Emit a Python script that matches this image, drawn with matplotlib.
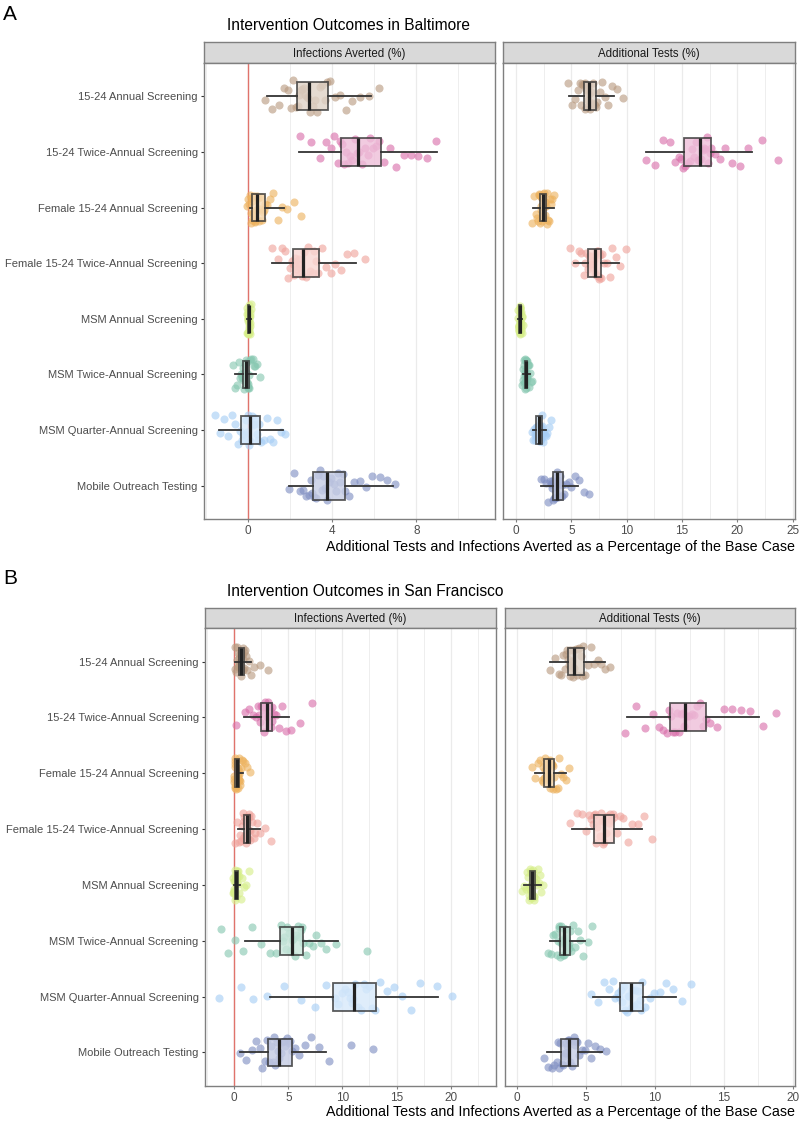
import numpy as np
import matplotlib
matplotlib.use("Agg")
import matplotlib.pyplot as plt
from matplotlib.colors import to_rgb

plt.rcParams['font.family'] = ['Liberation Sans', 'DejaVu Sans']

# Categorias y colores
categorias = ["15-24 Annual Screening", "15-24 Twice-Annual Screening",
              "Female 15-24 Annual Screening", "Female 15-24 Twice-Annual Screening",
              "MSM Annual Screening", "MSM Twice-Annual Screening",
              "MSM Quarter-Annual Screening", "Mobile Outreach Testing"]
colores = ["#B89A80", "#D96FAA", "#EDB25E", "#EFA39C",
           "#D6EE88", "#86C7B0", "#A6CDF5", "#7F8EC2"]

facetas = ["Infections Averted (%)", "Additional Tests (%)"]

# Cajas: (bigote inf, q1, mediana, q3, bigote sup)
balt_inf_box = [(0.89, 2.32, 2.89, 3.78, 5.84), (2.40, 4.41, 5.21, 6.30, 8.98),
                (0.06, 0.17, 0.41, 0.81, 1.68), (1.13, 2.13, 2.60, 3.35, 5.11),
                (-0.06, -0.01, 0.02, 0.05, 0.12), (-0.65, -0.25, -0.10, 0.02, 0.38),
                (-1.41, -0.35, 0.06, 0.54, 1.65), (1.92, 3.08, 3.75, 4.62, 6.89)]
balt_test_box = [(4.76, 6.10, 6.58, 7.23, 8.84), (11.70, 15.18, 16.58, 17.65, 21.34),
                 (1.58, 2.17, 2.41, 2.71, 3.42), (5.21, 6.55, 7.17, 7.68, 9.29),
                 (0.18, 0.30, 0.36, 0.42, 0.58), (0.62, 0.80, 0.90, 1.00, 1.25),
                 (1.50, 1.83, 2.04, 2.33, 2.72), (2.29, 3.33, 3.72, 4.23, 5.56)]
sf_inf_box = [(0.10, 0.40, 0.65, 0.92, 1.54), (0.86, 2.46, 3.01, 3.53, 5.07),
              (0.03, 0.09, 0.29, 0.47, 0.80), (0.31, 0.86, 1.17, 1.47, 2.33),
              (-0.06, 0.03, 0.15, 0.31, 0.55), (1.01, 4.24, 5.32, 6.39, 9.61),
              (3.32, 9.09, 11.06, 13.06, 18.83), (0.55, 3.16, 4.15, 5.32, 8.48)]
sf_test_box = [(2.39, 3.67, 4.08, 4.81, 6.38), (7.95, 11.09, 12.17, 13.70, 17.56),
               (1.26, 1.96, 2.27, 2.63, 3.55), (3.96, 5.60, 6.26, 7.03, 9.03),
               (0.46, 0.89, 1.06, 1.26, 1.72), (2.39, 3.07, 3.41, 3.84, 4.88),
               (5.48, 7.46, 8.26, 9.10, 11.50), (2.15, 3.17, 3.72, 4.40, 6.14)]

# Puntos (valores estimados de la imagen)
balt_inf_pts = [
    [0.81, 1.12, 1.45, 1.7, 1.88, 2.02, 2.15, 2.27, 2.35, 2.42, 2.5, 2.57, 2.64, 2.71, 2.78, 2.85,
     2.95, 3.06, 3.17, 3.29, 3.41, 3.52, 3.63, 3.74, 3.9, 4.12, 4.38, 4.66, 4.95, 5.3, 5.75, 6.24],
    [2.45, 3.0, 3.4, 3.7, 3.92, 4.1, 4.25, 4.37, 4.46, 4.56, 4.66, 4.76, 4.86, 4.96, 5.06, 5.16,
     5.29, 5.42, 5.55, 5.68, 5.82, 5.95, 6.08, 6.22, 6.45, 6.75, 7.05, 7.4, 7.75, 8.1, 8.5, 8.95],
    [-0.06, 0.0, 0.05, 0.08, 0.11, 0.13, 0.15, 0.16, 0.19, 0.22, 0.25, 0.28, 0.31, 0.34, 0.37, 0.4,
     0.45, 0.5, 0.55, 0.6, 0.65, 0.7, 0.75, 0.8, 0.9, 1.05, 1.2, 1.4, 1.6, 1.85, 2.2, 2.5],
    [1.15, 1.4, 1.6, 1.76, 1.88, 1.98, 2.06, 2.11, 2.16, 2.22, 2.28, 2.34, 2.4, 2.46, 2.52, 2.58,
     2.66, 2.76, 2.86, 2.96, 3.06, 3.15, 3.24, 3.33, 3.5, 3.7, 3.92, 4.15, 4.4, 4.7, 5.05, 5.55],
    [-0.06, -0.05, -0.04, -0.03, -0.03, -0.02, -0.02, -0.01, -0.01, 0.0, 0.0, 0.0, 0.01, 0.01, 0.01, 0.02,
     0.02, 0.03, 0.03, 0.03, 0.04, 0.04, 0.04, 0.05, 0.05, 0.06, 0.07, 0.08, 0.09, 0.1, 0.11, 0.12],
    [-0.75, -0.62, -0.52, -0.44, -0.38, -0.33, -0.29, -0.26, -0.24, -0.22, -0.2, -0.18, -0.16, -0.14, -0.12, -0.1,
     -0.09, -0.07, -0.06, -0.04, -0.03, -0.01, 0.0, 0.02, 0.05, 0.1, 0.15, 0.2, 0.26, 0.32, 0.4, 0.54],
    [-1.57, -1.35, -1.15, -0.95, -0.78, -0.62, -0.5, -0.4, -0.3, -0.25, -0.19, -0.13, -0.07, -0.02, 0.02, 0.05,
     0.1, 0.16, 0.22, 0.28, 0.34, 0.4, 0.46, 0.52, 0.62, 0.74, 0.88, 1.02, 1.18, 1.35, 1.55, 1.73],
    [1.92, 2.2, 2.45, 2.62, 2.76, 2.88, 2.98, 3.05, 3.14, 3.22, 3.31, 3.4, 3.49, 3.57, 3.65, 3.73,
     3.84, 3.95, 4.06, 4.17, 4.28, 4.39, 4.5, 4.6, 4.8, 5.05, 5.3, 5.6, 5.9, 6.25, 6.6, 7.0]]

balt_test_pts = [
    [4.67, 5.05, 5.35, 5.6, 5.78, 5.9, 6.0, 6.08, 6.14, 6.2, 6.27, 6.33, 6.39, 6.45, 6.5, 6.56,
     6.62, 6.7, 6.78, 6.86, 6.94, 7.02, 7.1, 7.2, 7.35, 7.55, 7.8, 8.05, 8.35, 8.7, 9.1, 9.67],
    [11.76, 12.6, 13.3, 13.9, 14.35, 14.7, 14.95, 15.12, 15.3, 15.5, 15.7, 15.88, 16.05, 16.22, 16.4, 16.55,
     16.7, 16.85, 16.98, 17.1, 17.22, 17.35, 17.48, 17.62, 17.95, 18.4, 18.9, 19.5, 20.2, 21.0, 22.2, 23.7],
    [1.49, 1.65, 1.8, 1.92, 2.0, 2.06, 2.11, 2.15, 2.19, 2.22, 2.25, 2.28, 2.31, 2.34, 2.37, 2.4,
     2.44, 2.48, 2.52, 2.56, 2.6, 2.63, 2.66, 2.7, 2.76, 2.83, 2.9, 2.98, 3.07, 3.17, 3.28, 3.4],
    [4.9, 5.3, 5.65, 5.9, 6.1, 6.25, 6.37, 6.48, 6.58, 6.66, 6.74, 6.82, 6.9, 6.98, 7.06, 7.14,
     7.21, 7.28, 7.34, 7.41, 7.48, 7.54, 7.6, 7.66, 7.8, 7.98, 8.2, 8.45, 8.7, 9.0, 9.4, 9.97],
    [0.15, 0.2, 0.23, 0.25, 0.27, 0.28, 0.29, 0.3, 0.31, 0.32, 0.33, 0.33, 0.34, 0.35, 0.35, 0.36,
     0.37, 0.37, 0.38, 0.39, 0.39, 0.4, 0.41, 0.42, 0.43, 0.45, 0.47, 0.49, 0.51, 0.54, 0.57, 0.6],
    [0.54, 0.6, 0.65, 0.69, 0.72, 0.75, 0.77, 0.79, 0.81, 0.82, 0.84, 0.85, 0.86, 0.87, 0.88, 0.9,
     0.91, 0.92, 0.93, 0.94, 0.96, 0.97, 0.98, 1.0, 1.03, 1.06, 1.1, 1.14, 1.19, 1.25, 1.33, 1.43],
    [1.45, 1.55, 1.63, 1.7, 1.75, 1.79, 1.82, 1.85, 1.88, 1.91, 1.94, 1.96, 1.99, 2.01, 2.04, 2.07,
     2.1, 2.14, 2.18, 2.22, 2.26, 2.29, 2.32, 2.36, 2.42, 2.48, 2.55, 2.62, 2.7, 2.8, 2.95, 3.16],
    [2.23, 2.5, 2.72, 2.9, 3.03, 3.13, 3.21, 3.28, 3.37, 3.42, 3.47, 3.52, 3.57, 3.62, 3.66, 3.7,
     3.76, 3.82, 3.88, 3.94, 4.0, 4.06, 4.12, 4.2, 4.35, 4.55, 4.78, 5.0, 5.3, 5.65, 6.1, 6.6]]

sf_inf_pts = [
    [0.03, 0.1, 0.16, 0.22, 0.27, 0.31, 0.35, 0.38, 0.42, 0.45, 0.49, 0.52, 0.55, 0.58, 0.61, 0.64,
     0.67, 0.7, 0.74, 0.77, 0.8, 0.84, 0.87, 0.91, 0.98, 1.08, 1.2, 1.35, 1.55, 1.85, 2.4, 3.1],
    [0.2, 0.95, 1.4, 1.75, 2.0, 2.18, 2.3, 2.4, 2.5, 2.57, 2.64, 2.71, 2.78, 2.85, 2.92, 2.99,
     3.05, 3.11, 3.18, 3.24, 3.31, 3.37, 3.44, 3.51, 3.65, 3.85, 4.1, 4.4, 4.75, 5.2, 6.1, 7.16],
    [-0.06, -0.03, 0.0, 0.02, 0.04, 0.06, 0.07, 0.08, 0.1, 0.13, 0.16, 0.19, 0.22, 0.25, 0.28, 0.3,
     0.32, 0.35, 0.37, 0.39, 0.42, 0.44, 0.46, 0.48, 0.52, 0.57, 0.63, 0.7, 0.8, 0.95, 1.2, 1.47],
    [0.03, 0.25, 0.42, 0.55, 0.65, 0.73, 0.79, 0.84, 0.88, 0.92, 0.96, 1.0, 1.04, 1.08, 1.12, 1.16,
     1.2, 1.24, 1.28, 1.32, 1.36, 1.4, 1.43, 1.46, 1.55, 1.67, 1.8, 1.95, 2.12, 2.35, 2.8, 3.41],
    [-0.12, -0.08, -0.05, -0.03, -0.01, 0.0, 0.01, 0.02, 0.04, 0.06, 0.08, 0.1, 0.11, 0.12, 0.13, 0.14,
     0.16, 0.18, 0.2, 0.22, 0.24, 0.26, 0.28, 0.3, 0.34, 0.4, 0.48, 0.58, 0.72, 0.9, 1.12, 1.38],
    [-1.23, -0.6, 0.1, 0.8, 1.6, 2.5, 3.3, 3.9, 4.35, 4.48, 4.62, 4.76, 4.9, 5.04, 5.18, 5.3,
     5.45, 5.6, 5.74, 5.88, 6.02, 6.15, 6.27, 6.38, 6.6, 6.9, 7.25, 7.6, 8.0, 8.5, 9.4, 12.3],
    [-1.44, 0.6, 1.7, 3.0, 4.6, 6.2, 7.5, 8.5, 9.3, 9.6, 9.95, 10.25, 10.5, 10.7, 10.85, 11.0,
     11.2, 11.45, 11.7, 11.95, 12.2, 12.45, 12.7, 13.0, 13.5, 14.1, 14.8, 15.5, 16.3, 17.2, 18.7, 20.15],
    [0.49, 1.1, 1.6, 2.0, 2.35, 2.6, 2.85, 3.05, 3.25, 3.4, 3.55, 3.68, 3.8, 3.92, 4.03, 4.13,
     4.28, 4.42, 4.57, 4.72, 4.87, 5.02, 5.17, 5.3, 5.6, 6.0, 6.5, 7.1, 7.8, 8.8, 10.8, 12.8]]

sf_test_pts = [
    [2.39, 2.75, 3.0, 3.2, 3.35, 3.46, 3.55, 3.62, 3.7, 3.75, 3.8, 3.86, 3.91, 3.96, 4.01, 4.06,
     4.15, 4.24, 4.33, 4.42, 4.51, 4.6, 4.7, 4.79, 4.95, 5.15, 5.38, 5.6, 5.85, 6.1, 6.4, 6.74],
    [7.83, 8.6, 9.3, 9.85, 10.3, 10.6, 10.85, 11.02, 11.18, 11.3, 11.45, 11.58, 11.72, 11.86, 12.0, 12.13,
     12.3, 12.48, 12.66, 12.85, 13.04, 13.24, 13.45, 13.66, 14.0, 14.5, 15.0, 15.6, 16.2, 16.9, 17.8, 18.8],
    [1.06, 1.3, 1.5, 1.65, 1.76, 1.84, 1.9, 1.94, 1.99, 2.03, 2.07, 2.11, 2.15, 2.19, 2.22, 2.25,
     2.3, 2.35, 2.39, 2.44, 2.49, 2.53, 2.58, 2.62, 2.7, 2.8, 2.92, 3.05, 3.2, 3.35, 3.52, 3.72],
    [3.84, 4.3, 4.7, 5.0, 5.22, 5.37, 5.48, 5.56, 5.65, 5.73, 5.81, 5.9, 5.98, 6.06, 6.15, 6.23,
     6.32, 6.42, 6.52, 6.62, 6.72, 6.82, 6.92, 7.01, 7.2, 7.45, 7.7, 8.0, 8.35, 8.75, 9.2, 9.76],
    [0.34, 0.5, 0.62, 0.71, 0.77, 0.82, 0.85, 0.88, 0.91, 0.93, 0.95, 0.97, 0.99, 1.01, 1.03, 1.05,
     1.08, 1.1, 1.13, 1.15, 1.18, 1.2, 1.22, 1.25, 1.3, 1.36, 1.43, 1.5, 1.58, 1.66, 1.75, 1.84],
    [2.2, 2.45, 2.62, 2.76, 2.86, 2.94, 3.0, 3.05, 3.1, 3.14, 3.18, 3.22, 3.26, 3.3, 3.34, 3.39,
     3.44, 3.49, 3.55, 3.61, 3.67, 3.72, 3.77, 3.82, 3.92, 4.05, 4.2, 4.38, 4.58, 4.8, 5.1, 5.41],
    [5.34, 5.85, 6.3, 6.65, 6.92, 7.12, 7.28, 7.4, 7.52, 7.62, 7.72, 7.82, 7.93, 8.04, 8.14, 8.24,
     8.35, 8.46, 8.57, 8.68, 8.79, 8.89, 8.99, 9.08, 9.3, 9.6, 9.95, 10.35, 10.8, 11.3, 11.95, 12.6],
    [1.91, 2.25, 2.5, 2.7, 2.85, 2.97, 3.06, 3.13, 3.22, 3.29, 3.36, 3.43, 3.5, 3.57, 3.63, 3.69,
     3.77, 3.85, 3.94, 4.02, 4.1, 4.19, 4.28, 4.37, 4.5, 4.68, 4.88, 5.1, 5.35, 5.65, 6.0, 6.45]]

W, H = 800, 1122
fig = plt.figure(figsize=(W / 100, H / 100), dpi=100)
rng = np.random.default_rng(7)
gris = "#7F7F7F"


def ejes(x0, y0, x1, y1):
    return fig.add_axes([x0 / W, 1 - y1 / H, (x1 - x0) / W, (y1 - y0) / H])


def aclarar(c, f=0.6):
    r, g, b = to_rgb(c)
    return (r + (1 - r) * f, g + (1 - g) * f, b + (1 - b) * f)


def faceta(x0, x1, ytop, ystrip, ybot, cajas, puntos, xlim, mayores, menores, titulo, izquierda):
    st = ejes(x0, ystrip, x1, ytop)
    st.set_facecolor("#D9D9D9")
    st.set_xticks([]); st.set_yticks([])
    for s in st.spines.values():
        s.set_color(gris); s.set_linewidth(1)
    st.text(0.5, 0.45, titulo, ha="center", va="center", fontsize=8.3, color="#1A1A1A",
            transform=st.transAxes)

    ax = ejes(x0, ytop, x1, ybot)
    pos = np.arange(len(categorias))
    for i, (vals, col) in enumerate(zip(puntos, colores)):
        y = i + rng.uniform(-0.29, 0.29, len(vals))
        ax.scatter(vals, y, s=34, color=col, alpha=0.62, linewidths=0, zorder=2)
    stats = [dict(whislo=b[0], q1=b[1], med=b[2], q3=b[3], whishi=b[4]) for b in cajas]
    bp = ax.bxp(stats, positions=pos, widths=0.5, orientation="horizontal", patch_artist=True,
                showcaps=False, showfliers=False, manage_ticks=False,
                boxprops=dict(edgecolor="#333333", linewidth=1.3),
                whiskerprops=dict(color="#333333", linewidth=1.3),
                medianprops=dict(color="#222222", linewidth=2.3))
    for caja, col in zip(bp["boxes"], colores):
        caja.set_facecolor(aclarar(col, 0.55))
        caja.set_alpha(0.8)
        caja.set_zorder(3)
    for k in ("whiskers", "medians"):
        for ln in bp[k]:
            ln.set_zorder(4)
    if izquierda:
        ax.axvline(0, color="#E0736C", linewidth=1, zorder=1.5)
    ax.set_xlim(*xlim)
    ax.set_ylim(len(categorias) - 0.4, -0.6)
    ax.set_xticks(mayores)
    ax.set_xticklabels([f"{m:g}" for m in mayores])
    ax.set_xticks(menores, minor=True)
    ax.grid(axis="x", which="major", color="#EBEBEB", linewidth=0.9, zorder=0)
    ax.grid(axis="x", which="minor", color="#EBEBEB", linewidth=0.6, zorder=0)
    ax.set_axisbelow(True)
    ax.tick_params(axis="x", which="major", length=2.5, width=0.8, color=gris, pad=1.5,
                   labelsize=8.5, labelcolor="#4D4D4D")
    ax.tick_params(axis="x", which="minor", length=0)
    if izquierda:
        ax.set_yticks(pos)
        ax.set_yticklabels(categorias)
        ax.tick_params(axis="y", length=2.5, width=0.8, color="#333333", pad=2,
                       labelsize=8, labelcolor="#4D4D4D")
    else:
        ax.set_yticks([])
    for s in ax.spines.values():
        s.set_color(gris); s.set_linewidth(1)
    return ax


xlab = "Additional Tests and Infections Averted as a Percentage of the Base Case"

# Panel A
fig.text(3 / W, 1 - 15 / H, "A", fontsize=15, va="center", ha="left")
fig.text(227 / W, 1 - 25 / H, "Intervention Outcomes in Baltimore", fontsize=11.2, va="center")
faceta(204, 495, 63, 42, 519, balt_inf_box, balt_inf_pts, (-2.11, 11.75),
       [0, 4, 8], [-2, 2, 6, 10], facetas[0], True)
faceta(503, 795, 63, 42, 519, balt_test_box, balt_test_pts, (-1.17, 25.2),
       [0, 5, 10, 15, 20, 25], [2.5, 7.5, 12.5, 17.5, 22.5], facetas[1], False)
fig.text(795 / W, 1 - 547 / H, xlab, fontsize=10.3, ha="right", va="center")

# Panel B
fig.text(3 / W, 1 - 578 / H, "B", fontsize=15, va="center", ha="left")
fig.text(227 / W, 1 - 592 / H, "Intervention Outcomes in San Francisco", fontsize=11.2, va="center")
faceta(205, 496, 628, 608, 1086, sf_inf_box, sf_inf_pts, (-2.71, 24.2),
       [0, 5, 10, 15, 20], [-2.5, 2.5, 7.5, 12.5, 17.5, 22.5], facetas[0], True)
faceta(505, 795, 628, 608, 1086, sf_test_box, sf_test_pts, (-0.89, 20.15),
       [0, 5, 10, 15, 20], [2.5, 7.5, 12.5, 17.5], facetas[1], False)
fig.text(795 / W, 1 - 1112 / H, xlab, fontsize=10.3, ha="right", va="center")

fig.savefig("out.png", dpi=100)
